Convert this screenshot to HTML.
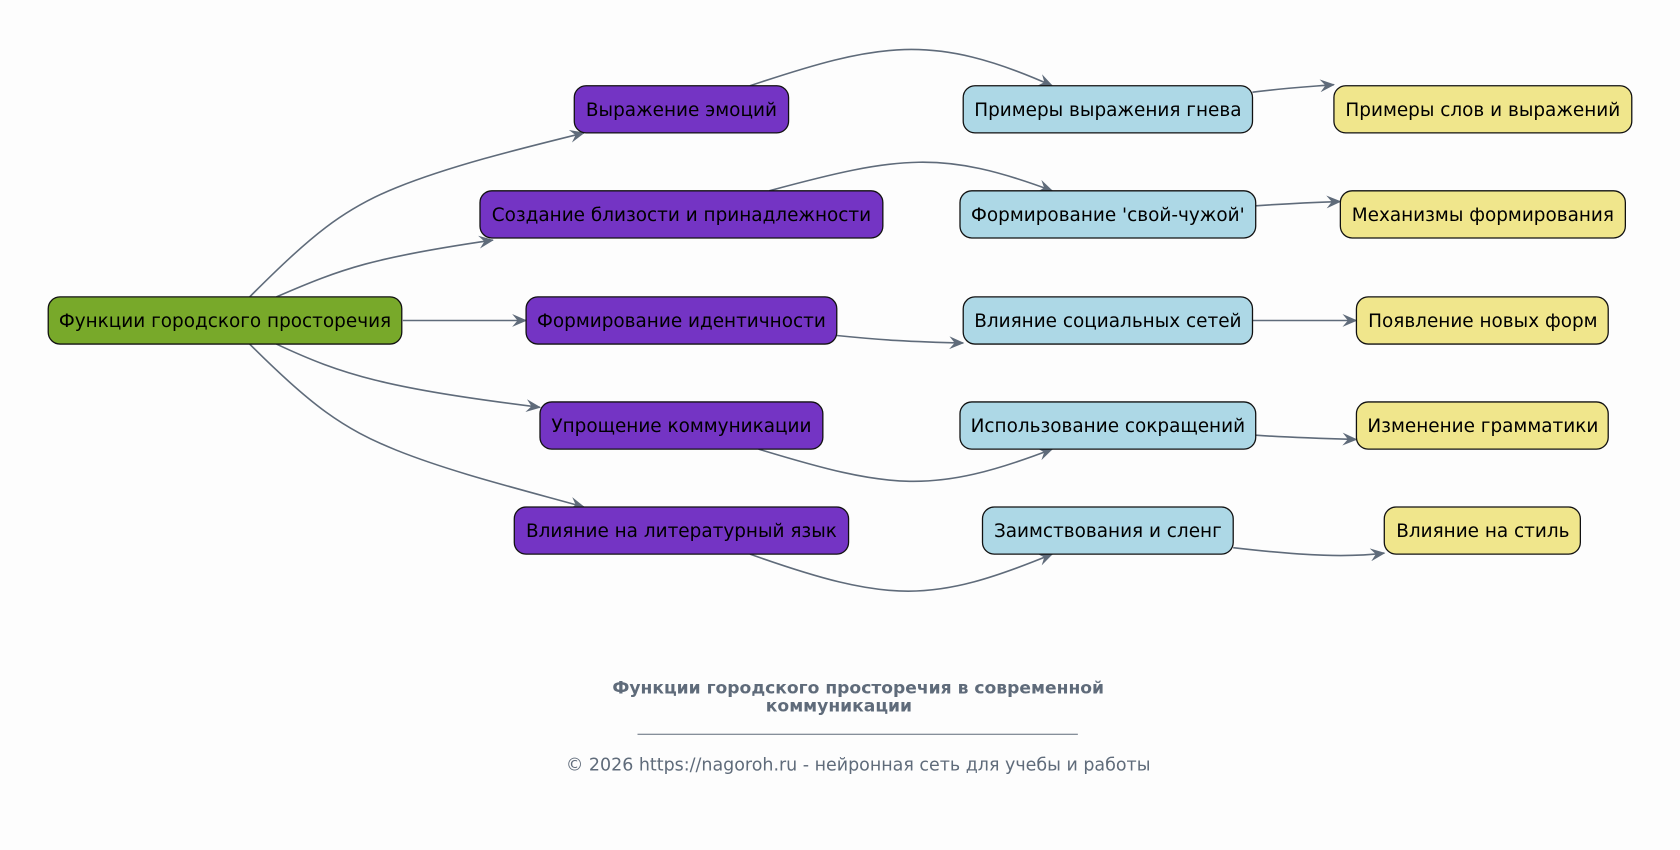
<!DOCTYPE html>
<html><head><meta charset="utf-8"><style>
html,body{margin:0;padding:0;background:#fdfdfd;}
svg{display:block;}
text{font-family:"DejaVu Sans","Liberation Sans",sans-serif;}
</style></head><body>
<svg width="1680" height="850" viewBox="0 0 1568 793" preserveAspectRatio="none" xmlns="http://www.w3.org/2000/svg">
<defs>
<marker id="a" viewBox="0 0 14 12" refX="13" refY="6" markerWidth="15" markerHeight="12" markerUnits="userSpaceOnUse" orient="auto">
<path d="M0,0 L14,6 L0,12 L5,6 Z" fill="#5f6b7a"/>
</marker>
</defs>
<rect width="1568" height="793" fill="#fdfdfd"/>
<g fill="none" stroke="#5f6b7a" stroke-width="1.5" marker-end="url(#a)">
<path d="M233,277 C290,220 320,195 370,175 C420,155 480,140 545,124"/>
<path d="M258,277 C320,250 350,240 460,224"/>
<path d="M376,299 L491,299"/>
<path d="M258,321 C320,350 360,362 504,380"/>
<path d="M233,321 C290,378 320,400 370,420 C420,440 480,455 545,473"/>
<path d="M700,80 C820,40 870,30 982,80"/>
<path d="M718,178 C840,145 880,140 982,178"/>
<path d="M781,313 C820,317 850,319 899,320"/>
<path d="M708,419 C830,456 870,462 982,419"/>
<path d="M700,517 C830,563 870,563 982,517"/>
<path d="M1169,86 C1200,82 1220,81 1245,79"/>
<path d="M1172,192 C1200,190 1220,189 1251,188"/>
<path d="M1169,299 L1266,299"/>
<path d="M1172,406 C1200,408 1230,409 1266,410"/>
<path d="M1151,511 C1220,519 1260,520 1292,516"/>
</g>
<g stroke="#111" stroke-width="1.2">
<rect x="45" y="277" width="330" height="44" rx="11" fill="#78a92a"/>
<rect x="536" y="80" width="200" height="44" rx="11" fill="#7434c4"/>
<rect x="448" y="178" width="376" height="44" rx="11" fill="#7434c4"/>
<rect x="491" y="277" width="290" height="44" rx="11" fill="#7434c4"/>
<rect x="504" y="375" width="264" height="44" rx="11" fill="#7434c4"/>
<rect x="480" y="473" width="312" height="44" rx="11" fill="#7434c4"/>
<rect x="899" y="80" width="270" height="44" rx="11" fill="#add8e6"/>
<rect x="896" y="178" width="276" height="44" rx="11" fill="#add8e6"/>
<rect x="899" y="277" width="270" height="44" rx="11" fill="#add8e6"/>
<rect x="896" y="375" width="276" height="44" rx="11" fill="#add8e6"/>
<rect x="917" y="473" width="234" height="44" rx="11" fill="#add8e6"/>
<rect x="1245" y="80" width="278" height="44" rx="11" fill="#f0e68c"/>
<rect x="1251" y="178" width="266" height="44" rx="11" fill="#f0e68c"/>
<rect x="1266" y="277" width="235" height="44" rx="11" fill="#f0e68c"/>
<rect x="1266" y="375" width="235" height="44" rx="11" fill="#f0e68c"/>
<rect x="1292" y="473" width="183" height="44" rx="11" fill="#f0e68c"/>
</g>
<g font-size="17.2" fill="#000" text-anchor="middle">
<text x="210" y="305">Функции городского просторечия</text>
<text x="636" y="108">Выражение эмоций</text>
<text x="636" y="206">Создание близости и принадлежности</text>
<text x="636" y="305">Формирование идентичности</text>
<text x="636" y="403">Упрощение коммуникации</text>
<text x="636" y="501">Влияние на литературный язык</text>
<text x="1034" y="108">Примеры выражения гнева</text>
<text x="1034" y="206">Формирование 'свой-чужой'</text>
<text x="1034" y="305">Влияние социальных сетей</text>
<text x="1034" y="403">Использование сокращений</text>
<text x="1034" y="501">Заимствования и сленг</text>
<text x="1384" y="108">Примеры слов и выражений</text>
<text x="1384" y="206">Механизмы формирования</text>
<text x="1384" y="305">Появление новых форм</text>
<text x="1384" y="403">Изменение грамматики</text>
<text x="1384" y="501">Влияние на стиль</text>
</g>
<g fill="#5f6b7a" text-anchor="middle">
<text x="801" y="647" font-size="16" font-weight="bold">Функции городского просторечия в современной</text>
<text x="783" y="664" font-size="16" font-weight="bold">коммуникации</text>
<line x1="595" y1="685" x2="1006" y2="685" stroke="#5f6b7a" stroke-width="1"/>
<text x="801" y="719" font-size="16.3">© 2026 https://nagoroh.ru - нейронная сеть для учебы и работы</text>
</g>
</svg>
</body></html>
